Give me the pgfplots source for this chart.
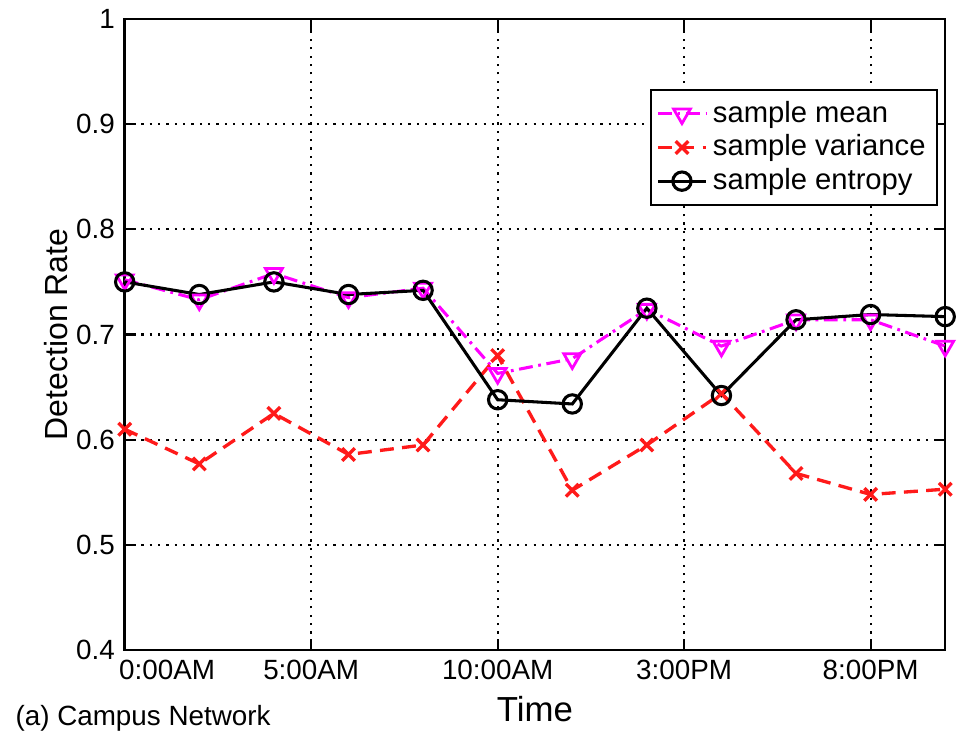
\documentclass[border=0pt]{standalone}
\usepackage{fontspec}
\setmainfont{Liberation Sans}
\usepackage{pgfplots}
\pgfplotsset{compat=1.18}
\definecolor{magline}{HTML}{FF00FF}
\definecolor{redline}{HTML}{FF1A1A}

\begin{document}
\begin{tikzpicture}
\begin{axis}[
  width=295pt, height=227pt, scale only axis,
  xmin=0, xmax=22, ymin=0.4, ymax=1,
  xtick={0,5,10,15,20},
  xticklabels={\makebox[0pt][l]{\hspace*{-2pt}0:00AM},5:00AM,10:00AM,3:00PM,8:00PM},
  ytick={0.4,0.5,...,1.0},
  yticklabel style={/pgf/number format/.cd,fixed,fixed zerofill=false,precision=1},
  /pgf/number format/assume math mode=true,
  tick align=inside, major tick length=4pt,
  tick style={black, line width=0.8pt},
  axis line style={line width=0.9pt},
  grid=major,
  grid style={black, line width=0.8pt, dash pattern=on 0.8pt off 2.2pt},
  ticklabel style={font=\fontsize{10}{12}\selectfont},
  xlabel={Time}, ylabel={Detection Rate},
  xlabel style={font=\fontsize{12.5}{14}\selectfont, yshift=1pt},
  ylabel style={font=\fontsize{11.5}{13}\selectfont, yshift=-4pt},
  legend style={at={(rel axis cs:0.991,0.889)}, anchor=north east,
    font=\fontsize{10.5}{12.5}\selectfont, draw=black, line width=0.8pt,
    inner sep=2pt, row sep=-1pt},
  legend cell align=left,
  clip=false,
]
\addplot[magline, line width=1.1pt, dash pattern=on 5pt off 2pt on 1pt off 2pt,
  mark=triangle, mark size=3.5pt, mark options={solid, rotate=180, line width=1pt}]
  coordinates {(0,0.752) (2,0.733) (4,0.758) (6,0.735) (8,0.744) (10,0.663)
  (12,0.677) (14,0.724) (16,0.689) (18,0.714) (20,0.714) (22,0.689)};
\addplot[redline, line width=1.2pt, dash pattern=on 5pt off 3pt,
  mark=x, mark size=3.2pt, mark options={solid, line width=1.2pt}]
  coordinates {(0,0.610) (2,0.577) (4,0.625) (6,0.586) (8,0.595) (10,0.680)
  (12,0.552) (14,0.595) (16,0.644) (18,0.568) (20,0.548) (22,0.553)};
\addplot[black, line width=1.1pt,
  mark=o, mark size=3.3pt, mark options={solid, line width=1.1pt}]
  coordinates {(0,0.750) (2,0.738) (4,0.750) (6,0.738) (8,0.742) (10,0.638)
  (12,0.634) (14,0.725) (16,0.642) (18,0.714) (20,0.719) (22,0.717)};
\legend{sample mean, sample variance, sample entropy}
\node[anchor=west, font=\fontsize{10}{12}\selectfont] at (rel axis cs:-0.145,-0.108) {(a) Campus Network};
\path (rel axis cs:-0.152,-0.129) rectangle (rel axis cs:1.018,1.029);
\end{axis}
\end{tikzpicture}
\end{document}
